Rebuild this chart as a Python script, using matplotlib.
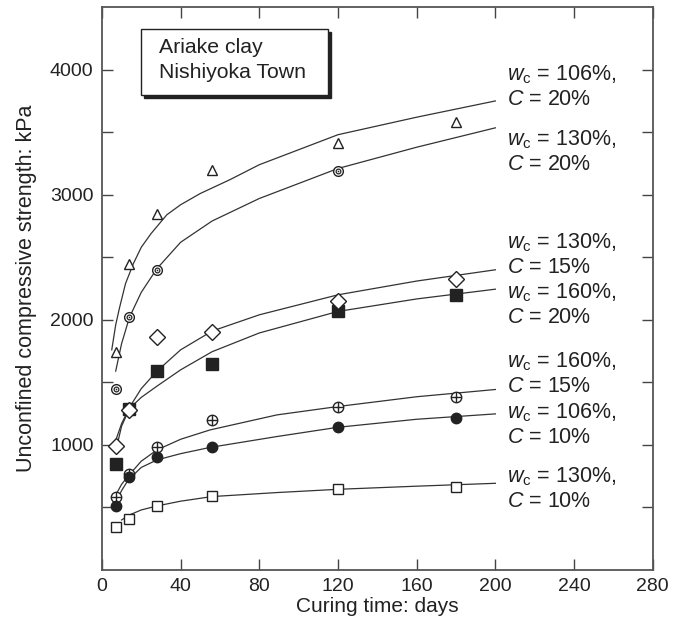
import numpy as np
import matplotlib
matplotlib.use("Agg")
import matplotlib.pyplot as plt
from matplotlib.patches import Rectangle


# Curing times of the samples (days)
days = [7, 14, 28, 56, 120, 180]
days_no56 = [7, 14, 28, 120]

# Measured unconfined compressive strength (kPa)
q_106_20 = [1740, 2450, 2850, 3200, 3410, 3585]
q_130_20 = [1445, 2024, 2395, 3187]
q_130_15 = [990, 1280, 1860, 1905, 2147, 2325]
q_160_20 = [850, 1290, 1590, 1645, 2067, 2200]
q_160_15 = [580, 765, 985, 1200, 1305, 1385]
q_106_10 = [510, 740, 905, 980, 1145, 1215]
q_130_10 = [340, 410, 515, 590, 645, 660]

# Trend curves
curve_106_20_t = [5, 7, 9, 12, 16, 20, 25, 33, 40, 50, 65, 80, 120, 160, 200]
curve_106_20_q = [1760, 1960, 2100, 2290, 2450, 2580, 2690, 2840, 2920, 3010, 3120,
                  3240, 3480, 3620, 3750]
curve_130_20_t = [7, 10, 14, 20, 28, 40, 56, 80, 120, 160, 200]
curve_130_20_q = [1590, 1810, 2020, 2220, 2410, 2620, 2790, 2970, 3210, 3380, 3535]
curve_130_15_t = [6, 10, 14, 20, 28, 40, 56, 80, 120, 160, 200]
curve_130_15_q = [990, 1170, 1300, 1450, 1590, 1760, 1910, 2040, 2200, 2310, 2400]
curve_160_20_t = [7, 10, 14, 20, 28, 40, 56, 80, 120, 160, 200]
curve_160_20_q = [950, 1150, 1290, 1380, 1470, 1600, 1745, 1895, 2067, 2167, 2245]
curve_160_15_t = [6.6, 10, 13.4, 20, 28, 40, 55, 89, 120, 160, 200]
curve_160_15_q = [587, 685, 752, 870, 960, 1045, 1120, 1240, 1307, 1385, 1443]
curve_106_10_t = [6.6, 10, 13.4, 20, 28, 40, 55, 89, 120, 160, 200]
curve_106_10_q = [525, 635, 720, 820, 880, 930, 980, 1067, 1141, 1205, 1248]
curve_130_10_t = [10, 14, 20, 28, 40, 56, 89, 120, 160, 200]
curve_130_10_q = [400, 440, 480, 512, 550, 587, 619, 645, 670, 693]

# Curve labels (w_c, C)
labels = [("106", "20"), ("130", "20"), ("130", "15"), ("160", "20"),
          ("160", "15"), ("106", "10"), ("130", "10")]

INK = "#222222"
FONT = "Liberation Sans"


def setup_fonts():
    """Arial-like font everywhere, also inside the mathtext labels."""
    plt.rcParams["font.family"] = FONT
    plt.rcParams["mathtext.fontset"] = "custom"
    plt.rcParams["mathtext.rm"] = FONT
    plt.rcParams["mathtext.it"] = FONT + ":italic"


def draw_curves(ax):
    curves = [(curve_106_20_t, curve_106_20_q), (curve_130_20_t, curve_130_20_q),
              (curve_130_15_t, curve_130_15_q), (curve_160_20_t, curve_160_20_q),
              (curve_160_15_t, curve_160_15_q), (curve_106_10_t, curve_106_10_q),
              (curve_130_10_t, curve_130_10_q)]
    for t, q in curves:
        ax.plot(t, q, color="#333333", lw=0.9, zorder=2)


def draw_markers(ax):
    ms = 7.5
    mew = 1.0
    # open triangles
    ax.plot(days, q_106_20, "^", ms=ms, mfc="white", mec=INK, mew=mew, zorder=3)
    # double circles with a dot
    ax.plot(days_no56, q_130_20, "o", ms=7, mfc="white", mec=INK, mew=mew, zorder=3)
    ax.plot(days_no56, q_130_20, "o", ms=3.4, mfc="none", mec=INK, mew=0.9, zorder=4)
    ax.plot(days_no56, q_130_20, "o", ms=1.2, mfc=INK, mec=INK, mew=0, zorder=4)
    # filled squares under the diamonds
    ax.plot(days, q_160_20, "s", ms=8, mfc=INK, mec=INK, mew=mew, zorder=3)
    ax.plot(days, q_130_15, "D", ms=8, mfc="white", mec=INK, mew=mew, zorder=3)
    # circled plus
    ax.plot(days, q_160_15, "o", ms=ms, mfc="white", mec=INK, mew=mew, zorder=3)
    ax.plot(days, q_160_15, "+", ms=ms, mec=INK, mew=mew, zorder=4)
    # filled circles
    ax.plot(days, q_106_10, "o", ms=ms, mfc=INK, mec=INK, mew=mew, zorder=3)
    # open squares
    ax.plot(days, q_130_10, "s", ms=7.5, mfc="white", mec=INK, mew=mew, zorder=3)


def draw_labels(ax):
    # y of the first line of each label, second line sits one line lower
    label_y = [3960, 3440, 2616, 2216, 1664, 1256, 744]
    for (wc, c), y in zip(labels, label_y):
        ax.text(206, y, r"$w_\mathrm{c}$ = " + wc + "%,", fontsize=15.5,
                ha="left", va="center", color=INK)
        ax.text(206, y - 198, r"$C$ = " + c + "%", fontsize=15.5,
                ha="left", va="center", color=INK)


def draw_site_box(ax):
    # drop shadow, then the white box on top
    ax.add_patch(Rectangle((21.5, 3776), 95, 528, facecolor=INK,
                           edgecolor=INK, lw=1, zorder=5))
    ax.add_patch(Rectangle((20, 3800), 95, 528, facecolor="white",
                           edgecolor=INK, lw=1, zorder=6))
    ax.text(29, 4180, "Ariake clay", fontsize=15.3, ha="left", va="center",
            color=INK, zorder=7)
    ax.text(29, 3975, "Nishiyoka Town", fontsize=15.3, ha="left", va="center",
            color=INK, zorder=7)


def plot_strength():
    fig = plt.figure(figsize=(6.75, 6.31), dpi=100)
    ax = fig.add_axes([0.151, 0.0967, 0.816, 0.892])

    draw_curves(ax)
    draw_markers(ax)
    draw_labels(ax)
    draw_site_box(ax)

    ax.set_xlim(0, 280)
    ax.set_ylim(0, 4500)
    ax.set_xticks(np.arange(0, 281, 40))
    ax.set_yticks([1000, 2000, 3000, 4000])
    ax.set_yticks([500, 1500, 2500, 3500], minor=True)
    ax.tick_params(which="both", direction="in", length=8, width=1,
                   top=True, right=True, color="#444444", labelsize=14,
                   labelcolor=INK, pad=6)

    for spine in ax.spines.values():
        spine.set_color("#555555")
        spine.set_linewidth(1.3)

    ax.set_xlabel("Curing time: days", fontsize=15, color=INK, labelpad=1)
    ax.set_ylabel("Unconfined compressive strength: kPa", fontsize=15.5,
                  color=INK, labelpad=9)

    fig.savefig("out.png", dpi=100)


if __name__ == "__main__":
    setup_fonts()
    plot_strength()
